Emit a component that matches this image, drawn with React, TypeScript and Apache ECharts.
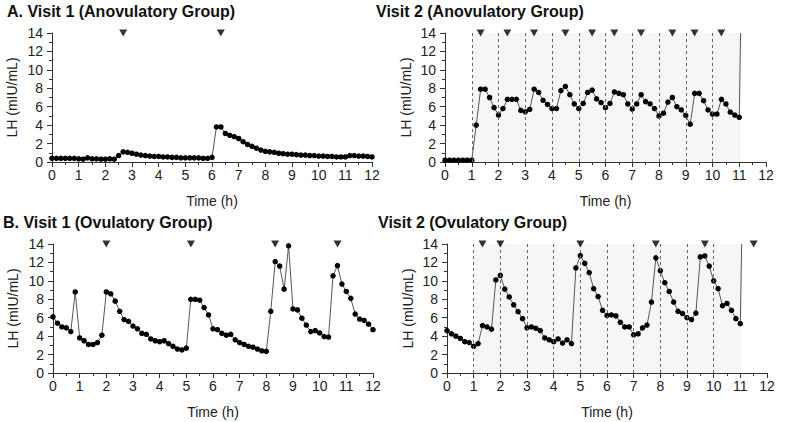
import React, { useEffect, useRef } from "react";
import * as echarts from "echarts";

// Sampling interval (hours) between blood draws
const SAMPLE_STEP_H = 1 / 6;

// LH values (mIU/mL), one per sample starting at t = 0 h
const visit1Anov = [
  0.4, 0.4, 0.4, 0.4, 0.4, 0.4, 0.35, 0.3, 0.45, 0.35, 0.35, 0.3, 0.3, 0.35, 0.3,
  0.7, 1.1, 1.05, 0.95, 0.85, 0.75, 0.7, 0.65, 0.6, 0.6, 0.55, 0.55, 0.5, 0.5, 0.45,
  0.45, 0.45, 0.45, 0.45, 0.4, 0.4, 0.5, 3.8, 3.8, 3.1, 2.9, 2.75, 2.55, 2.2, 1.9,
  1.7, 1.5, 1.3, 1.15, 1.1, 1.05, 0.95, 0.9, 0.85, 0.85, 0.8, 0.75, 0.75, 0.7, 0.7,
  0.65, 0.65, 0.6, 0.6, 0.55, 0.55, 0.55, 0.7, 0.7, 0.65, 0.65, 0.6, 0.55,
];
const visit2Anov = [
  0.2, 0.2, 0.2, 0.2, 0.2, 0.2, 0.2, 4.0, 7.9, 7.9, 7.0, 5.9, 5.1, 5.8, 6.8, 6.8,
  6.8, 5.6, 5.45, 5.7, 7.9, 7.55, 6.7, 6.25, 5.8, 5.8, 7.75, 8.2, 7.3, 6.3, 5.8,
  6.35, 7.55, 7.8, 6.85, 6.45, 5.9, 6.35, 7.6, 7.45, 7.3, 6.3, 5.75, 6.3, 7.3, 6.55,
  6.3, 5.8, 5.0, 5.3, 6.5, 7.0, 6.0, 5.65, 5.05, 4.1, 7.45, 7.45, 6.65, 5.65, 5.2,
  5.2, 6.8, 6.3, 5.4, 5.1, 4.85,
];
const visit1Ov = [
  6.1, 5.4, 5.0, 4.9, 4.5, 8.8, 3.8, 3.5, 3.1, 3.1, 3.3,
  4.1, 8.8, 8.6, 7.8, 6.7, 5.8, 5.6, 5.1, 4.8, 4.3, 4.2,
  3.7, 3.5, 3.4, 3.5, 3.2, 2.9, 2.6, 2.5, 2.7, 8.0, 8.0,
  7.9, 7.1, 6.3, 4.8, 4.7, 4.3, 4.1, 4.2, 3.6, 3.3, 3.1,
  2.9, 2.8, 2.6, 2.4, 2.35, 6.7, 12.1, 11.6, 9.1, 13.8, 6.95,
  6.85, 5.95, 5.2, 4.5, 4.6, 4.35, 3.95, 3.9, 10.55, 11.65, 9.65,
  8.85, 8.1, 6.4, 5.85, 5.7, 5.3, 4.7,
];
const visit2Ov = [
  4.6, 4.25, 4.0, 3.75, 3.4, 3.3, 2.9, 3.2, 5.15, 5.0, 4.75,
  10.1, 10.6, 9.1, 8.25, 7.4, 6.65, 5.9, 4.9, 5.0, 4.85, 4.6,
  3.8, 3.6, 3.4, 3.7, 3.25, 3.6, 3.2, 11.4, 12.75, 11.9, 10.9,
  9.15, 8.3, 6.8, 6.25, 6.3, 6.2, 5.5, 5.0, 5.0, 4.15, 4.25,
  4.9, 5.2, 7.7, 12.5, 11.1, 9.8, 8.85, 7.7, 6.7, 6.45, 6.0,
  5.8, 6.5, 12.6, 12.7, 11.6, 10.0, 9.15, 7.3, 7.55, 6.8, 5.9,
  5.35,
];

// Detected pulses (hours)
const pulses1Anov = [2.67, 6.33];
const pulses2Anov = [1.33, 2.33, 3.33, 4.5, 5.5, 6.33, 7.33, 8.5, 9.33, 10.33];
const pulses1Ov = [2.0, 5.17, 8.33, 10.67];
const pulses2Ov = [1.33, 2.0, 5.0, 7.83, 9.67, 11.5];

// Visit 2 hourly dividers and shaded period (hours)
const dividerHours = [1, 2, 3, 4, 5, 6, 7, 8, 9, 10];
const shadeStart = 1;
const shadeEnd = 11.05;

const titles = [
  "A. Visit 1 (Anovulatory Group)",
  "Visit 2 (Anovulatory Group)",
  "B. Visit 1 (Ovulatory Group)",
  "Visit 2 (Ovulatory Group)",
];

const X_MIN = 0;
const X_MAX = 12;
const Y_MIN = 0;
const Y_MAX = 14;

const FONT = '"Liberation Sans", Arial, sans-serif';
const AXIS_COLOR = "#333";

const panels = [
  { data: visit1Anov, pulses: pulses1Anov, visit2: false, nameGap: 33, grid: { left: 52, top: 33, width: 320, height: 129 }, title: { left: 7, top: 3 } },
  { data: visit2Anov, pulses: pulses2Anov, visit2: true, nameGap: 32, grid: { left: 445, top: 33, width: 321, height: 129 }, title: { left: 376, top: 3 } },
  { data: visit1Ov, pulses: pulses1Ov, visit2: false, nameGap: 33, grid: { left: 53, top: 244, width: 320, height: 129 }, title: { left: 3, top: 214 } },
  { data: visit2Ov, pulses: pulses2Ov, visit2: true, nameGap: 32, grid: { left: 447, top: 244, width: 320, height: 129 }, title: { left: 378, top: 214 } },
];

function buildOption() {
  const grids: any[] = [];
  const xAxes: any[] = [];
  const yAxes: any[] = [];
  const series: any[] = [];
  const graphics: any[] = [];

  panels.forEach((p, i) => {
    grids.push({ ...p.grid, containLabel: false });
    xAxes.push({
      type: "value",
      gridIndex: i,
      min: X_MIN,
      max: X_MAX,
      interval: 1,
      axisLine: { show: true, onZero: false, lineStyle: { color: AXIS_COLOR, width: 1 } },
      axisTick: { show: true, length: 5, lineStyle: { color: AXIS_COLOR } },
      minorTick: { show: true, splitNumber: 2, length: 3, lineStyle: { color: AXIS_COLOR } },
      splitLine: { show: false },
      minorSplitLine: { show: false },
      axisLabel: { fontSize: 14, color: "#222", margin: 6, fontFamily: FONT },
      name: "Time (h)",
      nameLocation: "middle",
      nameGap: 32,
      nameTextStyle: { fontSize: 14, color: "#222", fontFamily: FONT },
    });
    yAxes.push({
      type: "value",
      gridIndex: i,
      min: Y_MIN,
      max: Y_MAX,
      interval: 2,
      axisLine: { show: true, onZero: false, lineStyle: { color: AXIS_COLOR, width: 1 } },
      axisTick: { show: true, length: 5, lineStyle: { color: AXIS_COLOR } },
      minorTick: { show: true, splitNumber: 2, length: 3, lineStyle: { color: AXIS_COLOR } },
      splitLine: { show: false },
      minorSplitLine: { show: false },
      axisLabel: { fontSize: 14, color: "#222", margin: 9, fontFamily: FONT },
      name: "LH (mIU/mL)",
      nameLocation: "middle",
      nameRotate: 90,
      nameGap: p.nameGap,
      nameTextStyle: { fontSize: 14, color: "#222", fontFamily: FONT },
    });

    const points = p.data.map((v, k) => [k * SAMPLE_STEP_H, v]);
    const lineSeries: any = {
      type: "line",
      xAxisIndex: i,
      yAxisIndex: i,
      data: points,
      symbol: "circle",
      symbolSize: 5.5,
      showSymbol: true,
      itemStyle: { color: "#000" },
      lineStyle: { color: "#555", width: 1 },
      z: 4,
      silent: true,
    };
    if (p.visit2) {
      lineSeries.markArea = {
        silent: true,
        itemStyle: { color: "#f6f6f6" },
        data: [[{ xAxis: shadeStart, yAxis: Y_MIN }, { xAxis: shadeEnd, yAxis: Y_MAX }]],
      };
      lineSeries.markLine = {
        silent: true,
        symbol: ["none", "none"],
        label: { show: false },
        lineStyle: { type: [3, 3], color: "#666", width: 1 },
        data: dividerHours.map((h) => ({ xAxis: h })),
      };
      const last = points[points.length - 1];
      series.push({
        type: "line",
        xAxisIndex: i,
        yAxisIndex: i,
        data: [last, [shadeEnd, Y_MAX]],
        symbol: "none",
        lineStyle: { color: "#555", width: 1 },
        z: 3,
        silent: true,
      });
    }
    series.push(lineSeries);
    series.push({
      type: "scatter",
      xAxisIndex: i,
      yAxisIndex: i,
      data: p.pulses.map((t) => [t, Y_MAX]),
      symbol: "triangle",
      symbolRotate: 180,
      symbolSize: [8, 7],
      itemStyle: { color: "#000" },
      clip: false,
      z: 5,
      silent: true,
    });

    graphics.push({
      type: "text",
      left: p.title.left,
      top: p.title.top,
      style: { text: titles[i], font: `bold 16px ${FONT}`, fill: "#111" },
    });
  });

  return {
    animation: false,
    backgroundColor: "#fff",
    grid: grids,
    xAxis: xAxes,
    yAxis: yAxes,
    series,
    graphic: graphics,
  };
}

export default function App() {
  const ref = useRef<HTMLDivElement>(null);
  useEffect(() => {
    if (!ref.current) return;
    const chart = echarts.init(ref.current, undefined, { renderer: "svg" });
    chart.setOption(buildOption() as any);
    return () => chart.dispose();
  }, []);
  return (
    <div
      ref={ref}
      style={{ position: "fixed", left: 0, top: 0, width: 800, height: 422, background: "#fff" }}
    />
  );
}
